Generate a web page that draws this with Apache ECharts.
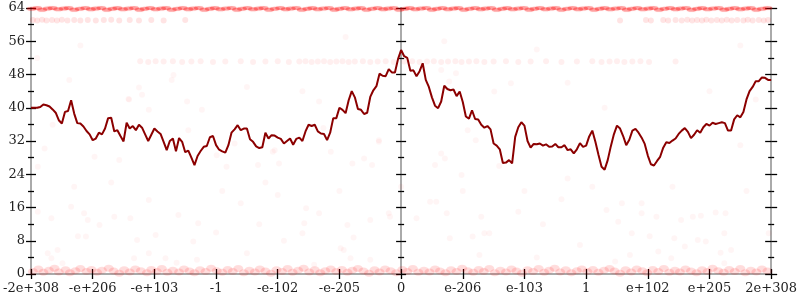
<!DOCTYPE html>
<html>
<head>
<meta charset="utf-8">
<script src="https://cdn.jsdelivr.net/npm/echarts@6/dist/echarts.min.js"></script>
<style>html,body{margin:0;padding:0;background:#fff}#c{width:800px;height:300px}</style>
</head>
<body>
<div id="c"></div>
<script>
// ---- data ----
const xLabels = ['-2e+308','-e+206','-e+103','-1','-e-102','-e-205','0','e-206','e-103','1','e+102','e+205','2e+308'];
const xMin = -6, xMax = 6;
const yMin = 0, yMax = 64, yStep = 8;
const lineStep = 0.05; // line samples from x=-6 to 6
const lineValues = [
40,40,40,40.2,40.8,40.6,40.3,39.6,38.8,37.0,
36.2,39.0,39.2,41.8,38.6,36.3,36.2,35.5,34.4,33.6,
32.2,32.6,34.0,33.6,35.0,37.5,37.6,34.3,34.6,33.2,
31.9,36.4,35.0,35.6,34.6,35.9,35.2,33.6,32.0,33.5,
35.0,34.3,33.7,31.8,29.8,32.0,32.6,29.5,32.7,31.8,
29.3,29.7,28.0,26.2,28.4,29.6,30.6,30.8,32.9,33.2,
31.0,29.9,29.5,29.2,31.0,34.0,34.8,35.8,34.6,35.0,
35.0,32.4,31.8,30.7,30.3,30.5,34.0,32.6,33.4,33.3,
32.8,32.5,31.4,32.0,32.6,31.1,32.5,32.8,32.0,34.3,
35.9,35.6,35.9,34.3,33.8,33.7,32.2,34.0,37.5,37.5,
40.0,39.5,38.7,41.8,44.0,42.5,39.7,39.5,38.5,38.8,
42.6,44.2,45.2,48.2,47.7,47.6,49.3,48.5,48.5,51.7,
53.9,52.4,52.0,48.9,49.0,47.6,48.8,50.7,46.7,45.0,
42.5,40.5,39.9,41.5,45.3,44.5,44.2,44.4,42.8,43.9,
41.4,37.9,37.4,39.4,37.3,37.2,35.9,35.2,35.6,34.8,
31.4,30.9,30.0,26.7,26.8,27.4,26.6,33.0,35.3,36.5,
35.7,32.0,30.4,31.3,31.2,31.4,30.9,31.2,30.6,30.7,
31.3,30.5,30.5,31.0,29.8,30.0,29.0,30.0,31.5,30.6,
30.9,33.1,34.5,31.8,28.7,25.8,25.1,27.4,30.7,33.6,
35.7,35.0,33.2,31.0,32.3,34.5,34.9,34.0,32.8,31.3,
28.5,26.4,26.1,27.2,28.2,30.4,31.7,31.5,32.1,32.6,
33.7,34.5,35.1,34.2,32.7,33.5,34.6,34.0,35.3,36.1,
35.7,36.4,36.1,36.3,36.5,36.3,34.5,34.5,37.2,38.2,
37.7,39.0,42.0,44.0,45.0,46.4,46.4,47.3,47.2,46.7,46.7
];
const topBand = [[-5.99,63.8],[-5.9,64],[-5.82,63.6],[-5.73,63.9],[-5.65,64],[-5.56,63.7],[-5.47,63.9],[-5.39,64],[-5.3,63.6],[-5.21,63.8],[-5.12,64],[-5.03,63.7],[-4.95,63.9],[-4.86,64],[-4.77,63.6],[-4.68,63.8],[-4.6,64],[-4.51,63.7],[-4.42,63.9],[-4.33,64],[-4.24,63.6],[-4.16,63.8],[-4.07,64],[-3.98,63.7],[-3.89,63.9],[-3.81,64],[-3.72,63.6],[-3.63,63.8],[-3.54,64],[-3.45,63.7],[-3.37,63.9],[-3.28,64],[-3.19,63.6],[-3.1,63.8],[-3.02,64],[-2.93,63.7],[-2.84,63.9],[-2.75,64],[-2.66,63.6],[-2.58,63.8],[-2.49,64],[-2.4,63.7],[-2.31,63.9],[-2.23,64],[-2.14,63.6],[-2.05,63.8],[-1.96,64],[-1.87,63.7],[-1.79,63.9],[-1.7,64],[-1.61,63.6],[-1.52,63.8],[-1.44,64],[-1.35,63.7],[-1.26,63.9],[-1.17,64],[-1.08,63.6],[-1.0,63.8],[-0.91,64],[-0.82,63.7],[-0.73,63.9],[-0.65,64],[-0.56,63.6],[-0.47,63.8],[-0.38,64],[-0.29,63.7],[-0.21,63.9],[-0.12,64],[-0.03,63.6],[0.06,63.8],[0.14,64],[0.23,63.7],[0.32,63.9],[0.41,64],[0.5,63.6],[0.58,63.8],[0.67,64],[0.76,63.7],[0.85,63.9],[0.93,64],[1.02,63.6],[1.11,63.8],[1.2,64],[1.29,63.7],[1.37,63.9],[1.46,64],[1.55,63.6],[1.64,63.8],[1.72,64],[1.81,63.7],[1.9,63.9],[1.99,64],[2.08,63.6],[2.16,63.8],[2.25,64],[2.34,63.7],[2.43,63.9],[2.51,64],[2.6,63.6],[2.69,63.8],[2.78,64],[2.87,63.7],[2.95,63.9],[3.04,64],[3.13,63.6],[3.22,63.8],[3.3,64],[3.39,63.7],[3.48,63.9],[3.57,64],[3.66,63.6],[3.74,63.8],[3.83,64],[3.92,63.7],[4.01,63.9],[4.09,64],[4.18,63.6],[4.27,63.8],[4.36,64],[4.45,63.7],[4.53,63.9],[4.62,64],[4.71,63.6],[4.8,63.8],[4.88,64],[4.97,63.7],[5.06,63.9],[5.15,64],[5.24,63.6],[5.32,63.8],[5.41,64],[5.5,63.7],[5.59,63.9],[5.67,64],[5.76,63.6],[5.85,63.8],[5.94,64]];
const band61 = [[-5.97,61.1],[-5.9,61],[-5.82,61.2],[-5.75,61],[-5.66,61.1],[-5.58,61],[-5.5,61.2],[-5.41,61],[-5.3,61.1],[-5.2,61],[-5.08,61.1],[-4.95,61],[-4.82,61.1],[-4.7,61.2],[-4.57,61],[-4.4,61.1],[-4.25,61],[-4.05,61.1],[-3.85,61],[-3.5,61.1],[3.55,61],[3.97,61.1],[4.05,61],[4.25,61.1],[4.33,61],[4.45,61.1],[4.55,61],[4.64,61.2],[4.72,61],[4.8,61.1],[4.88,61],[4.95,61.2],[5.03,61],[5.12,61.1],[5.2,61],[5.28,61.2],[5.36,61],[5.45,61.1],[5.55,61],[5.62,61.2],[5.7,61],[5.8,61.1],[5.88,61],[5.95,61.1]];
const band51 = [[-4.23,51.2],[-4.1,51],[-3.98,51.2],[-3.85,51.1],[-3.7,51.2],[-3.55,51],[-3.4,51.1],[-3.25,51.2],[-3.05,51],[-2.85,51.1],[-2.6,51.2],[-2.4,51],[-2.2,51.1],[-2.0,51.2],[-1.82,51],[-1.65,51.1],[-1.55,51.2],[-1.45,51],[-1.35,51.1],[-1.25,51.2],[-1.15,51],[-1.05,51.1],[-0.95,51.2],[-0.85,51],[-0.75,51.1],[-0.62,51.2],[-0.5,51],[-0.38,51.1],[-0.25,51.2],[-0.12,51],[0.05,51.1],[0.18,51.2],[0.3,51],[0.42,51.1],[0.53,51.2],[0.65,51],[0.76,51.1],[0.88,51.2],[0.98,51],[1.1,51.1],[1.22,51.2],[1.35,51],[1.5,51.1],[1.7,51.2],[1.9,51],[2.1,51.1],[2.35,51.2],[2.6,51],[2.85,51.1],[3.1,51.2],[3.25,51],[3.38,51.1],[3.5,51.2],[3.62,51],[3.75,51.1],[3.88,51.2],[4.02,51],[4.45,51.1]];
const bottomBand = [[-5.97,0.6],[-5.88,1.2],[-5.8,0.4],[-5.71,0.9],[-5.62,1.4],[-5.55,0.5],[-5.44,1.0],[-5.37,0.3],[-5.28,0.8],[-5.2,1.3],[-5.1,0.6],[-5.02,1.1],[-4.93,0.4],[-4.85,0.9],[-4.74,1.4],[-4.66,0.7],[-4.57,0.2],[-4.49,1.0],[-4.4,0.5],[-4.31,1.2],[-4.22,0.8],[-4.12,0.3],[-4.05,1.1],[-3.96,0.6],[-3.88,1.3],[-3.79,0.4],[-3.7,0.9],[-3.6,0.5],[-3.52,1.2],[-3.43,0.7],[-3.35,0.3],[-3.26,1.0],[-3.17,0.6],[-3.08,1.4],[-2.99,0.8],[-2.9,0.4],[-2.81,1.1],[-2.73,0.6],[-2.64,1.3],[-2.55,0.3],[-2.46,0.9],[-2.37,0.5],[-2.29,1.2],[-2.2,0.7],[-2.11,0.2],[-2.02,1.0],[-1.93,0.6],[-1.84,1.3],[-1.76,0.4],[-1.67,0.9],[-1.58,1.4],[-1.49,0.5],[-1.4,1.0],[-1.31,0.3],[-1.23,0.8],[-1.14,1.2],[-1.05,0.6],[-0.96,1.1],[-0.87,0.4],[-0.79,0.9],[-0.7,1.3],[-0.61,0.7],[-0.52,0.2],[-0.43,1.0],[-0.35,0.5],[-0.26,1.2],[-0.17,0.8],[-0.08,0.3],[0.02,1.1],[0.1,0.6],[0.19,1.3],[0.28,0.4],[0.37,0.9],[0.46,0.5],[0.55,1.2],[0.63,0.7],[0.72,0.3],[0.81,1.0],[0.9,0.6],[0.99,1.4],[1.08,0.8],[1.17,0.4],[1.26,1.1],[1.34,0.6],[1.43,1.3],[1.52,0.3],[1.61,0.9],[1.7,0.5],[1.79,1.2],[1.87,0.7],[1.96,0.2],[2.05,1.0],[2.14,0.6],[2.23,1.3],[2.32,0.4],[2.4,0.9],[2.49,1.4],[2.58,0.5],[2.67,1.0],[2.76,0.3],[2.85,0.8],[2.93,1.2],[3.02,0.6],[3.11,1.1],[3.2,0.4],[3.29,0.9],[3.38,1.3],[3.46,0.7],[3.55,0.2],[3.64,1.0],[3.73,0.5],[3.82,1.2],[3.91,0.8],[3.99,0.3],[4.08,1.1],[4.17,0.6],[4.26,1.3],[4.35,0.4],[4.44,0.9],[4.52,0.5],[4.61,1.2],[4.7,0.7],[4.79,0.3],[4.88,1.0],[4.97,0.6],[5.05,1.4],[5.14,0.8],[5.23,0.4],[5.32,1.1],[5.41,0.6],[5.5,1.3],[5.58,0.3],[5.67,0.9],[5.76,0.5],[5.85,1.2],[5.94,0.7]];
const scatterDots = [[-5.38,46.7],[-4.25,44.9],[-4.2,43.1],[-4.42,42.1],[-3.69,47.9],[-3.72,46.7],[-5.35,16.2],[-5.14,14.6],[-5.08,13],[-5.89,15],[-5.67,13.4],[-4.89,11.8],[-5.11,9],[-5.24,9.1],[-5.73,5],[-5.57,5.8],[-5.67,3.8],[-5.49,2.6],[-4.65,13.8],[-4.39,13.4],[-4.28,8.2],[-4.33,3.8],[-4.09,5],[-3.98,9.4],[-3.82,3.8],[-3.61,14.2],[-3.29,12.2],[-3.37,7.8],[-3.64,2.7],[-3.31,3.4],[-4.09,17.8],
[-1.54,15.8],[-1.33,14.6],[-1.57,12.2],[-1.6,9.8],[-0.87,11.8],[-0.77,8.8],[-0.98,6.2],[-0.93,5.8],[-0.82,3.8],[-0.5,3.4],[-1.41,2.2],[-0.5,13],[-0.2,14.6],[-0.18,13.8],[0.25,13.4],[0.47,17.4],[0.57,17.4],[0.74,14.6],[0.79,8.6],[1.16,9],[1.27,4.6],[1.3,13.8],[1.35,9.8],[1.43,9.8],
[3.58,17],[3.9,17],[3.33,15.4],[3.9,14.6],[4.14,13.8],[3.52,12.6],[4.54,13],[4.73,13.8],[4.86,14],[5.1,14.8],[5.26,14.6],[3.74,9.8],[4.03,9.1],[4.43,8.6],[4.81,8.2],[4.94,7.8],[5.24,9.8],[4.6,6.6],[4.17,5.4],[3.71,4.6],[4.38,3.8],[5.18,5.1],[5.35,5.8],[5.24,2.6],[3.47,3],[5.96,9.8],
[-4.41,42],[-4.09,39.5],[-3.47,41.5],[-3.45,34.6],[-5.65,35.9],[-5.78,30.2],[-4.57,27.4],[-4.97,28.2],[-5.89,25.8],
[-1.33,41.5],[-3.23,39.5],[-0.36,31.8],[-1.14,29.4],[-2.08,29.4],[-2.7,31.4],[-2.99,28.6],[-2.83,25.8],[-2.32,26.2],[-1.98,26.6],[-0.79,26.6],[-0.6,27.8],[-0.47,26.2],
[0.65,49.1],[0.89,48.3],[0.78,46.3],[1.51,43.9],[1.78,45.9],[1.08,34.6],[1.21,32.2],[0.65,29],[0.71,27.8],[0.55,26.2],[1.59,26],[0.98,23.8],
[-1.26,35.1],[-0.36,32.2],[-2.05,29.8],
[-2.9,20],[-2.6,17],[-2.3,12],[-2.0,19],[-1.9,8],[-2.5,5],[-2.2,22],[-3.0,10],[2.0,20],[2.3,12],[2.6,18],[2.9,7],[2.2,4],[2.7,23],[3.1,21],[1.9,15],[-5.3,21],[-4.7,22],[-1.0,20],[0.0,21],[1.0,20],[4.4,21],[5.6,20],[5.5,31],[5.75,42],[3.3,40],[2.7,46],[-2.5,45],[-1.6,44],[5.0,44],[-5.9,52],[-5.2,55],[5.5,55],[2.2,54],[-0.9,57],[0.7,56]];

// ---- chart ----
const FONT = 'DejaVu Serif';
const tickLS = {color:'#000', width:1.3};
const axisLS = {color:'#aaa', width:2};

function yAxisDef(opts) {
  return Object.assign({
    type:'value', min:yMin, max:yMax, interval:yStep,
    splitLine:{show:false}, minorSplitLine:{show:false},
    axisLabel:{show:false}
  }, opts);
}
const yAxes = [
  yAxisDef({position:'left', axisLine:{show:true,onZero:false,lineStyle:axisLS},
    axisTick:{show:true,inside:false,length:5,lineStyle:tickLS},
    minorTick:{show:true,splitNumber:2,length:3,lineStyle:tickLS},
    axisLabel:{show:true,margin:6,fontFamily:FONT,fontSize:13,color:'#222'}}),
  yAxisDef({position:'left', axisLine:{show:false,onZero:false},
    axisTick:{show:true,inside:true,length:5,lineStyle:tickLS},
    minorTick:{show:true,splitNumber:2,length:3,lineStyle:tickLS}}),
  yAxisDef({position:'right', axisLine:{show:true,onZero:false,lineStyle:axisLS},
    axisTick:{show:true,inside:false,length:6,lineStyle:tickLS},
    minorTick:{show:true,splitNumber:2,length:3,lineStyle:tickLS}}),
  yAxisDef({position:'right', axisLine:{show:false,onZero:false},
    axisTick:{show:true,inside:true,length:6,lineStyle:tickLS},
    minorTick:{show:true,splitNumber:2,length:3,lineStyle:tickLS}}),
  yAxisDef({position:'left', axisLine:{show:true,onZero:true,onZeroAxisIndex:0,lineStyle:axisLS},
    axisTick:{show:true,inside:false,length:5,lineStyle:tickLS},
    minorTick:{show:true,splitNumber:2,length:3,lineStyle:tickLS}}),
  yAxisDef({position:'left', axisLine:{show:false,onZero:true,onZeroAxisIndex:0},
    axisTick:{show:true,inside:true,length:5,lineStyle:tickLS},
    minorTick:{show:true,splitNumber:2,length:3,lineStyle:tickLS}})
];
const xAxes = [
  {type:'value', min:xMin, max:xMax, interval:1, position:'bottom',
   axisLine:{show:true,onZero:false,lineStyle:axisLS},
   axisTick:{show:true,inside:false,length:5,lineStyle:tickLS},
   axisLabel:{show:true,margin:8,fontFamily:FONT,fontSize:13,color:'#222',
     showMinLabel:true,showMaxLabel:true,hideOverlap:false,
     formatter:v => xLabels[Math.round(v) - xMin]},
   splitLine:{show:false}},
  {type:'value', min:xMin, max:xMax, interval:1, position:'bottom',
   axisLine:{show:false,onZero:false},
   axisTick:{show:true,inside:true,length:5,lineStyle:tickLS},
   axisLabel:{show:false}, splitLine:{show:false}}
];

const lineData = lineValues.map((v, i) => [xMin + i * lineStep, v]);
function dots(data, alpha, size, blur) {
  return {type:'scatter', data:data, symbol:'circle', symbolSize:size,
    itemStyle:{color:'rgba(255,0,0,' + alpha + ')',
      shadowBlur:blur, shadowColor:'rgba(255,0,0,' + (alpha * 0.6) + ')'},
    silent:true, z:1};
}

const chart = echarts.init(document.getElementById('c'), null, {renderer:'canvas'});
chart.setOption({
  animation:false,
  backgroundColor:'#fff',
  grid:{left:27, right:26, top:8, bottom:26, containLabel:false},
  xAxis:xAxes,
  yAxis:yAxes,
  series:[
    dots(bottomBand, 0.16, [10,7], 3),
    dots(topBand, 0.4, [10,4], 2),
    dots(band61, 0.13, 6, 2),
    dots(band51, 0.08, 6, 2),
    dots(scatterDots, 0.05, 6, 2),
    {type:'line', data:lineData, showSymbol:false, symbol:'none', z:3,
     lineStyle:{color:'#8b0000', width:2}, itemStyle:{color:'#8b0000'}}
  ]
});
</script>
</body>
</html>
